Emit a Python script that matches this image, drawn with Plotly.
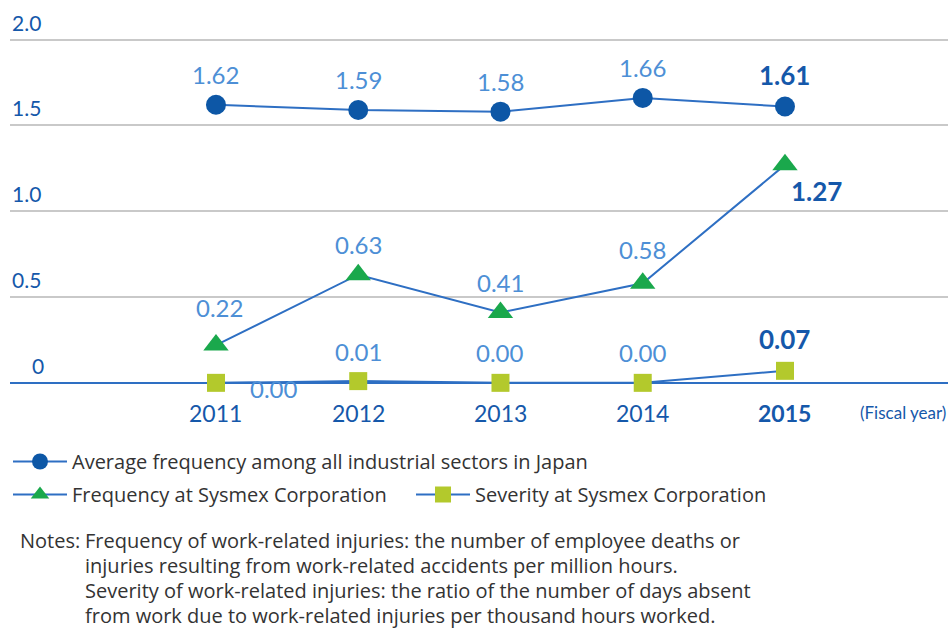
import plotly.graph_objs as go

years = [2011, 2012, 2013, 2014, 2015]
avg_japan = [1.62, 1.59, 1.58, 1.66, 1.61]
freq_sysmex = [0.22, 0.63, 0.41, 0.58, 1.27]
sev_sysmex = [0.00, 0.01, 0.00, 0.00, 0.07]
y_ticks = [0, 0.5, 1.0, 1.5, 2.0]
y_tick_text = ['0', '0.5', '1.0', '1.5', '2.0']

names = ['Average frequency among all industrial sectors in Japan',
         'Frequency at Sysmex Corporation',
         'Severity at Sysmex Corporation']

notes = ['Frequency of work-related injuries: the number of employee deaths or',
         'injuries resulting from work-related accidents per million hours.',
         'Severity of work-related injuries: the ratio of the number of days absent',
         'from work due to work-related injuries per thousand hours worked.']

FONT = 'Lato'
TEXT_FONT = 'Open Sans'
LINE = '#2e6fc3'
DARK = '#1558aa'
LIGHT = '#4d8fd6'

W, H = 952, 628
ML, MR, MT, MB = 10, 4, 31, 228
PW, PH = W - ML - MR, H - MT - MB


def px_x(x):
    # page pixel -> plot-area paper fraction
    return (x - ML) / PW


def px_y(y):
    return 1 - (y - MT) / PH


# label offsets (px) for each point: (xshift, yshift)
off_avg = [(0, 30), (0, 30), (0, 30), (0, 30), (0, 32)]
off_freq = [(4, 38), (0, 30), (0, 30), (0, 34), (32, -26)]
off_sev = [(58, -6), (0, 30), (0, 30), (0, 30), (0, 32)]

fig = go.Figure(
    data=[
        go.Scatter(x=years, y=avg_japan, mode='lines+markers', name=names[0],
                   line=dict(color=LINE, width=2),
                   marker=dict(symbol='circle', size=20, color='#0d57a6'),
                   cliponaxis=False, legend='legend'),
        go.Scatter(x=years, y=freq_sysmex, mode='lines+markers', name=names[1],
                   line=dict(color=LINE, width=2),
                   marker=dict(symbol='triangle-up', size=22, color='#1aa84c'),
                   cliponaxis=False, legend='legend2'),
        go.Scatter(x=years, y=sev_sysmex, mode='lines+markers', name=names[2],
                   line=dict(color=LINE, width=2),
                   marker=dict(symbol='square', size=18, color='#b3c92c'),
                   cliponaxis=False, legend='legend2'),
    ],
    layout=go.Layout(
        width=W, height=H,
        plot_bgcolor='white', paper_bgcolor='white',
        margin=dict(l=ML, r=MR, t=MT, b=MB),
        font=dict(family=FONT, color='#333333'),
        showlegend=True,
        xaxis=dict(range=[2009.552, 2016.146], showgrid=False, zeroline=False,
                   showline=False, showticklabels=False, fixedrange=True),
        yaxis=dict(range=[-0.1, 2.05], tickvals=[0.5, 1.0, 1.5, 2.0],
                   showgrid=True, gridcolor='#c9c9c9', gridwidth=1.5,
                   zeroline=True, zerolinecolor=LINE, zerolinewidth=2,
                   showline=False, showticklabels=False, fixedrange=True),
        legend=dict(x=px_x(8), y=px_y(442), xanchor='left', yanchor='top',
                    orientation='h', font=dict(family=TEXT_FONT, size=20, color='#333333'),
                    itemwidth=54, bgcolor='rgba(0,0,0,0)'),
        legend2=dict(x=px_x(8), y=px_y(475), xanchor='left', yanchor='top',
                     orientation='h', font=dict(family=TEXT_FONT, size=20, color='#333333'),
                     itemwidth=54, entrywidth=334, bgcolor='rgba(0,0,0,0)'),
    )
)

ann = []
# y tick labels sitting above the grid lines
for v, t in zip(y_ticks, y_tick_text):
    ann.append(dict(x=px_x(30 if t == '0' else 10), xref='paper', y=v, yref='y',
                    text=t, showarrow=False, xanchor='left', yanchor='bottom',
                    yshift=3, font=dict(size=21, color=DARK)))

# x category labels
for i, yr in enumerate(years):
    bold = i == len(years) - 1
    ann.append(dict(x=yr, xref='x', y=0, yref='y', showarrow=False,
                    text='<b>%d</b>' % yr if bold else str(yr),
                    yshift=-30, font=dict(size=23, color=DARK)))
ann.append(dict(x=1.0, xref='paper', y=0, yref='y', showarrow=False,
                text='(Fiscal year)', xanchor='right', yshift=-30,
                font=dict(size=17, color=DARK)))

# data labels
for series, offs in [(avg_japan, off_avg), (freq_sysmex, off_freq), (sev_sysmex, off_sev)]:
    for i, (yr, v) in enumerate(zip(years, series)):
        bold = i == len(years) - 1
        txt = '%.2f' % v
        ann.append(dict(x=yr, xref='x', y=v, yref='y', showarrow=False,
                        text='<b>%s</b>' % txt if bold else txt,
                        xshift=offs[i][0], yshift=offs[i][1],
                        font=dict(size=26 if bold else 24,
                                  color=DARK if bold else LIGHT)))

# notes
ann.append(dict(x=px_x(18), xref='paper', y=px_y(540), yref='paper',
                yanchor='middle', xanchor='left', showarrow=False,
                text='Notes:', font=dict(family=TEXT_FONT, size=20, color='#333333')))
for k, line in enumerate(notes):
    ann.append(dict(x=px_x(83), xref='paper', y=px_y(540 + 25 * k), yref='paper',
                    yanchor='middle', xanchor='left', showarrow=False,
                    text=line, font=dict(family=TEXT_FONT, size=20, color='#333333')))

fig.update_layout(annotations=ann)

fig.write_html("out.html", config={'displayModeBar': False},
               post_script="document.body.style.margin='0';")
